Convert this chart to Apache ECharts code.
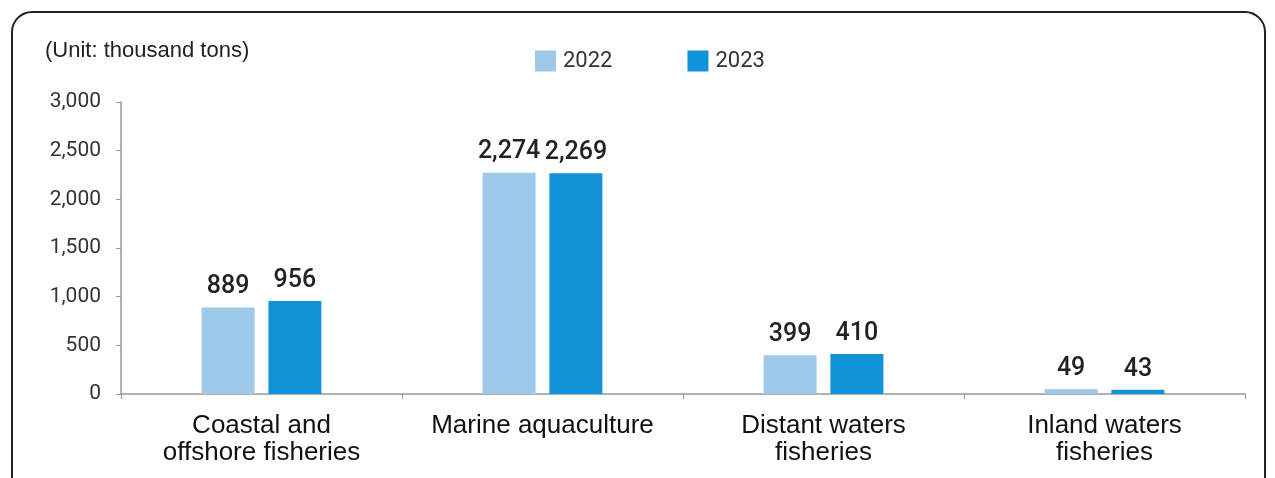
<!DOCTYPE html>
<html><head><meta charset="utf-8">
<script src="https://cdn.jsdelivr.net/npm/echarts@6/dist/echarts.min.js"></script>
<style>html,body{margin:0;padding:0;background:#fff}#c{width:1275px;height:478px}</style>
</head><body><div id="c"></div>
<script>
const categories = ['Coastal and\noffshore fisheries', 'Marine aquaculture', 'Distant waters\nfisheries', 'Inland waters\nfisheries'];
const series2022 = [889, 2274, 399, 49];
const series2023 = [956, 2269, 410, 43];
const yTicks = [0, 500, 1000, 1500, 2000, 2500, 3000];

const chart = echarts.init(document.getElementById('c'));
const labelStyle = {
  show: true, position: 'top', distance: 8,
  fontFamily: 'Roboto', fontSize: 25, fontWeight: 500, color: '#222',
  formatter: p => p.value.toLocaleString('en-US')
};
chart.setOption({
  animation: false,
  graphic: [
    { type: 'rect', shape: { x: 12, y: 12, width: 1253, height: 490, r: 20 },
      style: { fill: 'none', stroke: '#222', lineWidth: 2 } },
    { type: 'text', left: 45, top: 40,
      style: { text: '(Unit: thousand tons)', fontFamily: 'Liberation Sans', fontSize: 22, fill: '#222' } }
  ],
  legend: {
    top: 45, left: 530, itemWidth: 21, itemHeight: 21, itemGap: 75,
    icon: 'rect',
    textStyle: { fontFamily: 'Roboto', fontSize: 22, color: '#333', padding: [0, 0, 0, 2] },
    data: ['2022', '2023']
  },
  grid: { left: 121, right: 30, top: 102, bottom: 84 },
  xAxis: {
    type: 'category', data: categories,
    axisLine: { lineStyle: { color: '#999', width: 1.5 } },
    axisTick: { show: true, interval: 0, length: 5, lineStyle: { color: '#999' } },
    axisLabel: { interval: 0, fontFamily: 'Liberation Sans', fontSize: 26, color: '#111', margin: 18, lineHeight: 27 }
  },
  yAxis: {
    type: 'value', min: 0, max: 3000, interval: 500,
    axisLine: { show: true, lineStyle: { color: '#999', width: 1.5 } },
    axisTick: { show: true, inside: false, length: 5, lineStyle: { color: '#999' } },
    splitLine: { show: false },
    axisLabel: { fontFamily: 'Roboto', fontSize: 21, color: '#333', margin: 20,
      formatter: v => v.toLocaleString('en-US') }
  },
  series: [
    { name: '2022', type: 'bar', data: series2022, barWidth: 53, barGap: '26%',
      itemStyle: { color: '#9ec9eb' }, label: labelStyle },
    { name: '2023', type: 'bar', data: series2023, barWidth: 53,
      itemStyle: { color: '#1193d7' }, label: labelStyle }
  ]
});
</script></body></html>
